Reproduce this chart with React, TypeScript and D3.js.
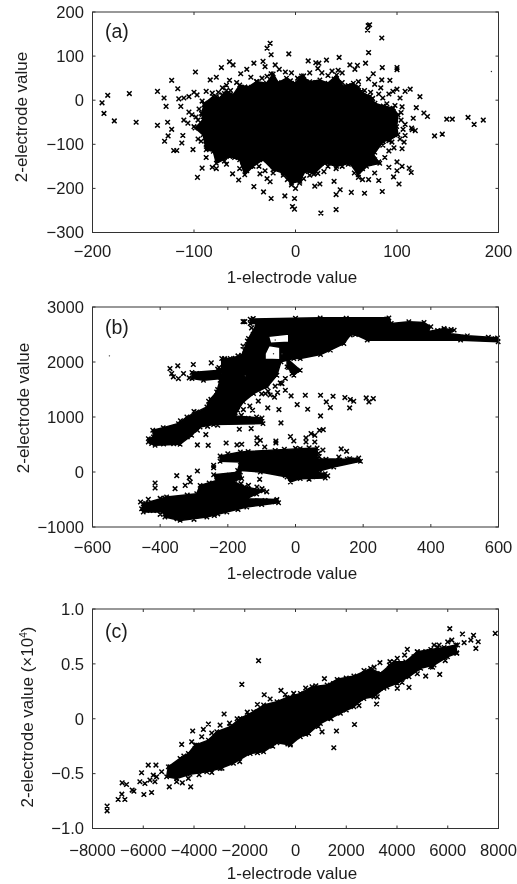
import React from "react";
import * as d3 from "d3";

type P = [number, number];

const xLabel = "1-electrode value";
const xTicksA = [-200, -100, 0, 100, 200];
const yTicksA = [200, 100, 0, -100, -200, -300];
const xTicksB = [-600, -400, -200, 0, 200, 400, 600];
const yTicksB = [3000, 2000, 1000, 0, -1000];
const xTicksC = [-8000, -6000, -4000, -2000, 0, 2000, 4000, 6000, 8000];
const yTicksC = [1, 0.5, 0, -0.5, -1];

// panel (a): dense core outline
const coreA: P[] = [[-92.7,-29.5],[-89.4,-6.8],[-81.2,8.3],[-74.6,4.5],[-68,21.9],[-61.5,12],[-54.9,34.7],[-46.7,29.5],[-38.5,42.3],[-28.6,38.5],[-22,59.7],[-17,40],[-8.9,49.8],[-0.7,38.5],[5.9,55],[14,42],[24,46],[32,38.5],[40.5,57],[47,31],[57,38.5],[65,19.6],[73.3,8.3],[78.3,-6.8],[86.5,-12.8],[96.4,-18],[101,-33],[99.7,-60],[101,-78.5],[93,-90],[86.5,-93.6],[76.6,-124],[83,-143],[70,-150],[61.8,-169],[53.6,-143],[40.5,-150],[29,-143],[19,-165],[9.2,-162],[4.3,-184],[-3.9,-188],[-12,-165],[-22,-158],[-32,-135],[-41.8,-150],[-50,-169],[-55,-135],[-64.8,-128],[-78,-143],[-81,-116],[-88,-112.5],[-91,-78.5],[-99,-63],[-91,-44.6]];
const pointsA: P[] = [[-190.6,-6],[-188.7,-30],[-185,11],[-178.5,-47],[-163.7,15],[-157,-50],[-136,20],[-136,-57],[-129.5,5],[-127.5,-14],[-126,-50],[-129,-93],[-125.5,-81],[-122,-66],[-122,45],[-116,26],[-120,-114],[-117,-114],[-113,-14],[-112,-97],[-111,-80],[-98.6,64],[-101,-112],[-96.6,-175],[-92,-154],[-84,46],[-78,52],[-73,74],[-65,87],[-61.5,80],[-56,-181],[-41,-196],[-31.5,-208],[-24,-223],[-10.5,-217],[-1,-223],[-3,-241],[-1,-247],[25,-256],[40,-248],[85.5,-207],[68,-211],[55,-209],[44,-203],[40,-214],[38,-184],[102,-190],[96.6,-174],[114,-164],[112,-154],[115,-67],[118,-69],[114.4,-63],[116,-41],[119,-17],[126.5,-29],[130,-37],[137,-81],[144.6,-77],[149,-43],[154.5,-43],[170,-39],[176,-55],[185,-45],[71.6,169],[73,171],[71,159],[85,141],[72,108],[69,84],[43,97],[85.5,74],[100,74],[100,69],[-6.6,105],[-25,129],[-28,118],[-24,103],[-32,88],[-30,76],[-41,84],[12.5,89],[20,85],[23,84],[30.5,91],[53.6,80],[61,79],[58.5,70],[76.6,60],[85,46],[93,45],[100,25],[113,25],[122.6,8],[108,20],[103,5],
[-115,3],[-110,5],[-105,8],[-100,18],[-97,12],[-92,-2],[-95,-20],[-105,-27],[-102,-33],[-98,-38],[-110,-45],[-106,-52],[-88,20],[-82,16],[-76,18],[-70,15],[-90,-10],[-85,-25],[-92,-32],[-96,-88],[-93,-93],[-88,-100],[-84,-72],[-90,-68],[-82,-108],[-78,-118],[-74,-130],[-70,-138],[-85,-110],[-88,-130],[-82,-152],[-78,-155],[-68,-145],[-62,-167],[-55,-155],[-52,-148],[-48,-160],[-44,-150],[-60,-130],[-52,-125],[-45,-118],[-38,-130],[-36,-150],[-35,-167],[-30,-160],[-28,-178],[-25,-185],[-22,-165],[-18,-155],[-12,-170],[-8,-180],[-4,-192],[0,-200],[4,-188],[8,-178],[-3,-175],[14,-170],[18,-168],[22,-166],[24,-190],[19,-195],[28,-162],[32,-150],[40,-155],[46,-150],[52,-145],[58,-165],[62,-175],[66,-180],[72,-180],[60,-150],[66,-155],[73,-142],[78,-135],[82,-140],[78,-165],[82,-182],[92,-152],[100,-140],[105,-150],[100,-160],[88,-130],[92,-115],[97,-108],[105,-110],[107,-95],[103,-88],[95,-95],[108,-80],[104,-28],[105,-15],[98,-12],[90,-8],[86,5],[82,14],[74,18],[68,22],[62,30],[52,33],[46,40],[38,48],[32,56],[26,62],[22,72],[14,62],[8,55],[2,50],[-4,62],[-10,64],[-16,70],[-20,80],[-24,60],[-28,54],[-33,50],[-38,42],[-44,52],[-48,70],[-54,60],[-58,40],[-65,45],[-68,34],[-72,28],[-78,8],[42,68],[46,62],[36,66],[62,42],[72,48],[78,36],[84,28],[92,14],[96,20],[-96,-45],[-100,-60],[-92,-62],[-88,-85],[-80,-96],[-70,-100],[-66,-118],[-60,-112],[50,-138],[78,-118],[86,-102],[92,-92],[96,-78],[36,-142],[-20,-142],[-42,-140],[-55,-118],[-65,-95],[-82,-62],[-88,-40],[-84,-8],[-74,0],[-52,20],[-30,35],[-5,44],[20,40],[48,28],[76,4],[92,-20],[104,-45],[108,-55],[106,-66],[-72,12],[-64,22],[-58,12],[-50,30],[-60,-5]];
const specksA: P[] = [[193,65]];

// panel (b)
const bandB: P[] = [[-134,2779],[73,2803],[276,2803],[283,2700],[335,2731],[380,2718],[400,2640],[390,2549],[439,2609],[469,2579],[454,2518],[508,2476],[597,2439],[599,2367],[488,2397],[212,2397],[177,2500],[162,2488],[143,2336],[103,2215],[74,2136],[14,2063],[-5,2063],[-43,2002],[-55,1760],[-84,1547],[-124,1426],[-154,1274],[-171,1123],[-178,1019],[-99,983],[-96,880],[-242,862],[-282,819],[-307,667],[-341,504],[-415,485],[-435,546],[-435,607],[-420,637],[-422,758],[-391,807],[-346,880],[-321,1001],[-292,1092],[-262,1183],[-257,1286],[-233,1456],[-223,1669],[-218,1851],[-218,2063],[-193,2063],[-159,2124],[-139,2427],[-114,2700],[-134,2700]];
const gapsB: P[][] = [[[-80,2470],[-20,2510],[-20,2360],[-74,2340]],[[-90,2150],[-78,2300],[-46,2270],[-46,2040],[-90,2050]]];
const wingB: P[] = [[-306,1808],[-223,1851],[-218,1699],[-272,1669],[-306,1699]];
const knotB: P[] = [[-25,2063],[14,1851],[-5,1760],[-25,1911]];
const midB: P[] = [[-223,291],[-163,364],[14,425],[64,437],[64,243],[153,231],[187,255],[192,194],[113,91],[59,0],[88,-30],[88,-109],[14,-121],[-15,-182],[-25,-91],[-104,0],[-171,30],[-163,182],[-223,194]];
const lowB: P[] = [[-455,-667],[-450,-576],[-381,-455],[-292,-394],[-282,-243],[-233,-152],[-242,-49],[-163,0],[-159,-121],[-183,-170],[-150,-270],[-95,-340],[-144,-485],[-55,-498],[-50,-558],[-144,-637],[-203,-728],[-262,-819],[-341,-880],[-386,-819],[-391,-728],[-450,-728]];
const pointsB: P[] = [[-371,1881],[-348,1930],[-366,1790],[-361,1730],[-346,1699],[-331,1790],[-314,1711],[-302,1954],[-292,1790],[-277,1730],[-249,1984],[-208,2033],[-89,1426],[-81,1468],[-53,1444],[-30,1487],[-40,1608],[-13,1383],[29,1396],[74,1396],[111,1378],[91,1274],[103,1171],[5,1226],[36,1141],[74,1019],[146,1353],[162,1317],[172,1286],[160,1165],[209,1347],[230,1335],[217,1274],[-154,1135],[-127,1123],[-82,1165],[-49,1135],[-43,892],[-166,777],[-131,789],[-265,680],[-290,492],[-258,485],[-205,528],[-173,492],[-159,504],[-114,619],[-104,576],[-114,516],[-91,455],[-58,564],[-58,528],[-33,413],[-15,643],[-5,564],[31,619],[31,546],[46,698],[57,546],[57,667],[71,758],[82,770],[81,400],[135,419],[151,376],[128,273],[-242,121],[-242,79],[-290,18],[-351,-67],[-314,-103],[-311,-182],[-326,-243],[-415,-200],[-415,-291],[-356,-303],[-386,-473],[-435,-498],[-458,-546],[-443,-576],[-161,-212],[-139,-243],[-106,-133],[-114,-273],[-99,-303],[-155,2735],[-150,2735],[-20,1900],[-10,1790],[-30,1700],[-45,1620],[-60,1560],[-100,1420],[-10,1850],[440,2590],[460,2590],[420,2570],[60,-75],[50,-85],[-200,330],[-170,290],[160,240],[175,220],[130,215],[120,160],[-415,600],[-400,640],[-395,730],[-340,930],[-300,1100],[-250,1320],[-230,1500],[-226,1900],[-210,2060],[-150,2210],[-125,2500],[-110,2600],[-125,2790],[0,2795],[150,2795],[270,2780],[330,2620],[370,2650],[500,2450],[570,2450],[590,2420],[-56,-520],[-90,-520],[-120,-560],[-240,-790],[-350,-850],[-420,-700],
[-298,1760],[-285,1780],[-270,1760],[-258,1730],[-245,1790],[-238,1755],[-225,1800],[-215,1720],[-230,1870],[-205,1975],[-190,2010],[-178,2065],[-170,2110],[-155,2290],[-142,2380],[-130,2620],[-75,1400],[-62,1360],[-110,1290],[-135,1200],[-160,1030],[-140,975],[-115,1000],[-230,850],[-260,830],[-290,760],[-320,640],[-360,515],[-390,510],[-425,520],[-195,300],[-210,240],[-140,370],[-60,390],[0,430],[40,440],[68,340],[70,280],[90,230],[105,150],[70,40],[95,-70],[40,-130],[-30,-60],[-90,30],[-150,70],[-160,150],[-195,-60],[-180,-130],[-255,-200],[-270,-310],[-320,-420],[-400,-480],[-440,-610],[-440,-700],[-400,-770],[-300,-860],[-230,-760],[-170,-680],[-100,-590],[-70,-540],[-85,-360],[-140,-350],[-115,-400]];
const specksB: P[] = [[-550,2112],[-148,1750],[-65,2150],[-40,2150],[-60,2400]];

// panel (c), y in units of 10^4
const bandC: P[] = [[-5013,-0.438],[-4552,-0.362],[-4223,-0.316],[-3959,-0.24],[-3432,-0.195],[-3103,-0.119],[-2576,-0.073],[-2181,0.003],[-1654,0.064],[-1258,0.125],[-731,0.155],[-336,0.195],[191,0.231],[652,0.292],[1245,0.307],[1640,0.359],[2299,0.389],[2958,0.459],[3353,0.413],[3880,0.52],[4341,0.52],[4802,0.611],[5329,0.632],[5856,0.65],[6317,0.672],[6357,0.596],[5988,0.565],[5461,0.489],[4934,0.459],[4473,0.383],[4012,0.322],[3485,0.277],[3089,0.2],[2694,0.185],[2299,0.109],[1772,0.049],[1377,0.003],[982,-0.043],[520,-0.134],[191,-0.164],[-204,-0.24],[-731,-0.219],[-1258,-0.301],[-1785,-0.316],[-2444,-0.407],[-2971,-0.453],[-3498,-0.483],[-4157,-0.505],[-4684,-0.544],[-5079,-0.529]];
const pointsC: P[] = [[-7424,-0.796],[-7424,-0.839],[-6989,-0.736],[-6844,-0.687],[-6725,-0.736],[-6831,-0.584],[-6660,-0.599],[-6436,-0.65],[-6370,-0.66],[-6067,-0.492],[-5975,-0.69],[-6133,-0.574],[-5935,-0.59],[-5803,-0.422],[-5500,-0.422],[-5672,-0.672],[-5606,-0.514],[-5540,-0.574],[-5737,-0.559],[-5474,-0.529],[-5276,-0.483],[-4947,-0.438],[-4974,-0.62],[-4684,-0.574],[-4460,-0.584],[-4223,-0.544],[-4131,-0.62],[-4486,-0.234],[-4091,-0.21],[-4052,-0.112],[-3630,-0.097],[-3432,-0.049],[-3695,-0.164],[-2813,0.043],[-2971,-0.058],[-2115,0.313],[-1456,0.529],[-1232,0.219],[-573,0.258],[-72,0.231],[1140,0.365],[2325,-0.052],[1614,-0.112],[1509,-0.264],[1047,-0.119],[-204,-0.231],[3195,0.134],[3221,0.2],[3327,0.511],[3722,0.52],[4012,0.55],[4407,0.632],[4473,0.286],[4012,0.277],[5131,0.389],[5684,0.404],[5329,0.474],[6080,0.821],[6159,0.717],[6580,0.772],[6646,0.693],[7015,0.76],[7200,0.702],[7108,0.641],[6910,0.717],[7872,0.778],[6383,0.672],[5461,0.672],[5659,0.672],[5131,0.611],[4670,0.565],[-4400,-0.34],[-3900,-0.24],[-3300,-0.13],[-2600,-0.04],[-2300,0.0],[-1900,0.06],[-1500,0.13],[-1000,0.18],[-400,0.22],[400,0.28],[800,0.3],[1500,0.32],[2000,0.37],[2700,0.44],[3100,0.47],[3700,0.49],[4300,0.58],[4800,0.61],[5600,0.65],[6000,0.7],[6350,0.6],[5900,0.53],[5400,0.47],[4800,0.41],[4200,0.33],[3600,0.29],[3000,0.22],[2500,0.12],[2000,0.08],[1400,0.0],[900,-0.07],[400,-0.14],[-300,-0.23],[-900,-0.25],[-1500,-0.31],[-2200,-0.39],[-2900,-0.45],[-3300,-0.49],[-3800,-0.51]];
const specksC: P[] = [];

const W = 517, H = 884;
const L = 92.5, R = 498.5;

type PanelProps = {
  top: number; bottom: number; xDomain: P; yDomain: P; xTicks: number[]; yTicks: number[];
  tag: string; tagY: number; tickY: number; labelY: number; yLabelX: number; yLabelY: number; yLabel: React.ReactNode; yFmt: (v: number) => string;
  areas: P[][]; gaps?: P[][]; points: P[]; specks: P[];
};

const minus = (s: string) => s.replace("-", "\u2212");
const ink = "#1c1c1c";
const FS = 16.6;

function cross(x: number, y: number, r: number) {
  return `M${x - r},${y - r}L${x + r},${y + r}M${x - r},${y + r}L${x + r},${y - r}`;
}

function Panel(p: PanelProps) {
  const x = d3.scaleLinear().domain(p.xDomain).range([L, R]);
  const y = d3.scaleLinear().domain(p.yDomain).range([p.bottom, p.top]);
  const line = d3.line<P>().x((d) => x(d[0])).y((d) => y(d[1])).curve(d3.curveLinearClosed);
  const areaPath = [...p.areas, ...(p.gaps ?? [])].map((a) => line(a)).join("");
  const rimPath = p.areas.flat().map((d) => cross(x(d[0]), y(d[1]), 2.2)).join("");
  const ptsPath = p.points.map((d) => cross(x(d[0]), y(d[1]), 2.3)).join("");
  const tickLen = 3;
  return (
    <g filter="url(#soft)">
      <path d={areaPath} fill="#000" fillRule="evenodd" stroke="#000" strokeWidth={1.5} strokeLinejoin="round" />
      <path d={rimPath} stroke="#000" strokeWidth={1.4} fill="none" />
      <path d={ptsPath} stroke="#000" strokeWidth={1.5} fill="none" />
      {p.specks.map((d, i) => <circle key={i} cx={x(d[0])} cy={y(d[1])} r={0.7} fill="#333" />)}
      <rect x={L} y={p.top} width={R - L} height={p.bottom - p.top} fill="none" stroke="#333" strokeWidth={1} />
      {p.xTicks.map((t) => (
        <g key={t}>
          <path d={`M${x(t)},${p.bottom}v${-tickLen}M${x(t)},${p.top}v${tickLen}`} stroke="#333" />
          <text x={x(t)} y={p.tickY} textAnchor="middle" fontSize={FS} fill={ink}>{minus(String(t))}</text>
        </g>
      ))}
      {p.yTicks.map((t) => (
        <g key={t}>
          <path d={`M${L},${y(t)}h${tickLen}M${R},${y(t)}h${-tickLen}`} stroke="#333" />
          <text x={84} y={y(t) + 5.8} textAnchor="end" fontSize={FS} fill={ink}>{minus(p.yFmt(t))}</text>
        </g>
      ))}
      <text x={292} y={p.labelY} textAnchor="middle" fontSize={17} fill={ink}>{xLabel}</text>
      <text transform={`translate(${p.yLabelX},${p.yLabelY}) rotate(-90)`} textAnchor="middle" fontSize={17} fill={ink}>{p.yLabel}</text>
      <text x={105} y={p.tagY} fontSize={19.5} fill={ink}>{p.tag}</text>
    </g>
  );
}

export default function App() {
  return (
    <svg width={W} height={H} viewBox={`0 0 ${W} ${H}`} style={{ position: "absolute", left: 0, top: 0, background: "#fff", fontFamily: "'Liberation Sans', Arial, sans-serif" }}>
      <defs>
        <filter id="soft" filterUnits="userSpaceOnUse" x="0" y="0" width={W} height={H}>
          <feGaussianBlur stdDeviation="0.35" />
        </filter>
      </defs>
      <Panel top={12} bottom={232.5} xDomain={[-200, 200]} yDomain={[-300, 200]} xTicks={xTicksA} yTicks={yTicksA}
        tag="(a)" tagY={38} tickY={257} labelY={283} yLabelX={27} yLabelY={117} yLabel="2-electrode value" yFmt={String}
        areas={[coreA]} points={pointsA} specks={specksA} />
      <Panel top={307} bottom={527} xDomain={[-600, 600]} yDomain={[-1000, 3000]} xTicks={xTicksB} yTicks={yTicksB}
        tag="(b)" tagY={334} tickY={553} labelY={579} yLabelX={29} yLabelY={408} yLabel="2-electrode value" yFmt={String}
        areas={[bandB, wingB, knotB, midB, lowB]} gaps={gapsB} points={pointsB} specks={specksB} />
      <Panel top={609} bottom={828.5} xDomain={[-8000, 8000]} yDomain={[-1, 1]} xTicks={xTicksC} yTicks={yTicksC}
        tag="(c)" tagY={638} tickY={856} labelY={879} yLabelX={33} yLabelY={717}
        yLabel={<>2-electrode value (×10<tspan dy={-6} fontSize={10}>4</tspan><tspan dy={6}>)</tspan></>}
        yFmt={(v) => (v === 0 ? "0" : v.toFixed(1))}
        areas={[bandC]} points={pointsC} specks={specksC} />
    </svg>
  );
}
